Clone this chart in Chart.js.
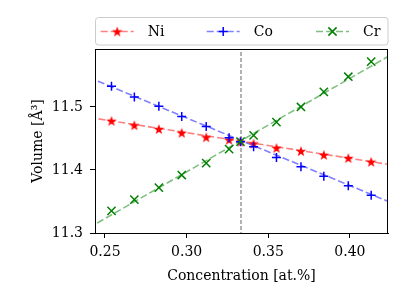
<!DOCTYPE html>
<html>
<head>
<meta charset="utf-8">
<script src="https://cdn.jsdelivr.net/npm/chart.js@4.4.0/dist/chart.umd.min.js"></script>
<style>
  html, body { margin: 0; padding: 0; background: #fff; }
  #wrap { width: 405px; height: 300px; }
</style>
</head>
<body>
<div id="wrap"><canvas id="volumeChart" width="405" height="300"></canvas></div>
<script>
// concentration of the element (at. fraction) and volume per atom (A^3)
const concentration = [0.254, 0.268, 0.283, 0.297, 0.312, 0.326, 0.333, 0.341, 0.355, 0.370, 0.384, 0.399, 0.413];
const niVolume = [11.478, 11.471, 11.465, 11.459, 11.452, 11.448, 11.445, 11.442, 11.435, 11.430, 11.424, 11.419, 11.413];
const coVolume = [11.533, 11.516, 11.501, 11.485, 11.469, 11.451, 11.445, 11.437, 11.420, 11.405, 11.390, 11.375, 11.360];
const crVolume = [11.335, 11.353, 11.372, 11.392, 11.411, 11.433, 11.445, 11.455, 11.476, 11.500, 11.524, 11.548, 11.572];

// linear fits, taken at both ends of the x range
const fitX = [0.24, 0.43];
const niFit = [11.4836, 11.4063];
const coFit = [11.547, 11.343];
const crFit = [11.308, 11.590];

// equiatomic composition marker
const equiatomic = 0.3333;
const equiatomicY = [11.2, 11.7];

const xTicks = [0.25, 0.30, 0.35, 0.40];
const yTicks = [11.3, 11.4, 11.5];

const FONT = "'DejaVu Serif', serif";

const toPoints = (xs, ys) => xs.map((x, i) => ({ x: x, y: ys[i] }));

/**
 * Filled five point star, used as an image point style
 */
function makeStar(color, size) {
    const c = document.createElement('canvas');
    c.width = c.height = size;
    const ctx = c.getContext('2d');
    const mid = size / 2;
    const outer = size / 2 - 0.5;
    const inner = outer * 0.4;
    ctx.beginPath();
    for (let i = 0; i < 10; i++) {
        const r = i % 2 ? inner : outer;
        const a = -Math.PI / 2 + i * Math.PI / 5;
        ctx.lineTo(mid + r * Math.cos(a), mid + 0.5 + r * Math.sin(a));
    }
    ctx.closePath();
    ctx.fillStyle = color;
    ctx.fill();
    return c;
}

const series = [
    { label: 'Ni', values: niVolume, fit: niFit, color: '#ff0000', line: 'rgba(255,0,0,0.5)', style: makeStar('#ff0000', 12), radius: 5 },
    { label: 'Co', values: coVolume, fit: coFit, color: '#0000ff', line: 'rgba(0,0,255,0.5)', style: 'cross', radius: 4.5 },
    { label: 'Cr', values: crVolume, fit: crFit, color: '#008000', line: 'rgba(0,128,0,0.5)', style: 'crossRot', radius: 5.8 }
];

const datasets = [];
series.forEach((s, i) => {
    datasets.push({
        label: s.label,
        data: toPoints(concentration, s.values),
        showLine: false,
        pointStyle: s.style,
        pointRadius: s.radius,
        pointBorderWidth: 1.5,
        pointBorderColor: s.color,
        pointBackgroundColor: s.color,
        order: 3 - i
    });
    datasets.push({
        label: s.label + ' fit',
        data: toPoints(fitX, s.fit),
        showLine: true,
        borderColor: s.line,
        borderWidth: 1.6,
        borderDash: [7, 3],
        pointRadius: 0,
        order: 4 + i
    });
});
datasets.push({
    label: 'equiatomic',
    data: toPoints([equiatomic, equiatomic], equiatomicY),
    showLine: true,
    borderColor: '#666666',
    borderWidth: 1,
    borderDash: [4, 2],
    pointRadius: 0,
    order: 10
});

// black frame round the plot area
const framePlugin = {
    id: 'frame',
    afterDraw(chart) {
        const a = chart.chartArea;
        const ctx = chart.ctx;
        ctx.save();
        ctx.strokeStyle = '#000';
        ctx.lineWidth = 1;
        ctx.strokeRect(Math.round(a.left) + 0.5, Math.round(a.top) + 0.5,
            Math.round(a.right - a.left) - 1, Math.round(a.bottom - a.top));
        ctx.restore();
    }
};

// matplotlib style legend above the axes, three columns
const legendPlugin = {
    id: 'mplLegend',
    afterDraw(chart) {
        const a = chart.chartArea;
        const ctx = chart.ctx;
        const top = 17.5, bottom = 45;
        const left = a.left + 0.5, right = a.right;
        const r = 3;
        ctx.save();
        ctx.beginPath();
        ctx.moveTo(left + r, top);
        ctx.arcTo(right, top, right, bottom, r);
        ctx.arcTo(right, bottom, left, bottom, r);
        ctx.arcTo(left, bottom, left, top, r);
        ctx.arcTo(left, top, right, top, r);
        ctx.closePath();
        ctx.fillStyle = 'rgba(255,255,255,0.8)';
        ctx.fill();
        ctx.strokeStyle = '#cccccc';
        ctx.lineWidth = 1;
        ctx.stroke();

        const cy = 31.5;
        const starts = [5.7, 111.7, 221];
        series.forEach((s, i) => {
            const x0 = a.left + starts[i];
            ctx.strokeStyle = s.line;
            ctx.lineWidth = 1.6;
            ctx.setLineDash([7, 3]);
            ctx.beginPath();
            ctx.moveTo(x0, cy);
            ctx.lineTo(x0 + 33, cy);
            ctx.stroke();
            ctx.setLineDash([]);
            ctx.strokeStyle = s.color;
            ctx.fillStyle = s.color;
            ctx.lineWidth = 1.5;
            Chart.helpers.drawPoint(ctx, { pointStyle: s.style, radius: s.radius, rotation: 0, borderWidth: 1.5 }, x0 + 16.5, cy);
            ctx.fillStyle = '#000';
            ctx.font = '14px ' + FONT;
            ctx.textBaseline = 'middle';
            ctx.textAlign = 'left';
            ctx.fillText(s.label, x0 + 47, cy + 1);
        });
        ctx.restore();
    }
};

const ctx = document.getElementById('volumeChart').getContext('2d');
new Chart(ctx, {
    type: 'scatter',
    data: { datasets: datasets },
    options: {
        responsive: false,
        animation: false,
        devicePixelRatio: 1,
        layout: { padding: { left: 0, right: 17, top: 49, bottom: 0 } },
        plugins: {
            legend: { display: false },
            tooltip: { enabled: false }
        },
        scales: {
            x: {
                type: 'linear',
                min: 0.2439,
                max: 0.4233,
                afterBuildTicks: (s) => { s.ticks = xTicks.map(v => ({ value: v })); },
                afterFit: (s) => { s.height = 67; },
                ticks: {
                    color: '#000',
                    font: { family: FONT, size: 14 },
                    padding: 6,
                    maxRotation: 0,
                    callback: (v) => Number(v).toFixed(2)
                },
                grid: { drawOnChartArea: false, tickLength: 5, tickColor: '#000', tickWidth: 1 },
                border: { display: true, color: '#000', width: 1 },
                title: {
                    display: true,
                    text: 'Concentration [at.%]',
                    color: '#000',
                    font: { family: FONT, size: 14 },
                    padding: { top: 0, bottom: 15 }
                }
            },
            y: {
                type: 'linear',
                min: 11.3,
                max: 11.592,
                afterBuildTicks: (s) => { s.ticks = yTicks.map(v => ({ value: v })); },
                afterFit: (s) => { s.width = 95; },
                ticks: {
                    color: '#000',
                    font: { family: FONT, size: 14 },
                    padding: 7,
                    callback: (v) => Number(v).toFixed(1)
                },
                grid: { drawOnChartArea: false, tickLength: 5, tickColor: '#000', tickWidth: 1 },
                border: { display: true, color: '#000', width: 1 },
                title: {
                    display: true,
                    text: 'Volume [Å³]',
                    color: '#000',
                    font: { family: FONT, size: 14 },
                    padding: { top: 30, bottom: 0 }
                }
            }
        }
    },
    plugins: [framePlugin, legendPlugin]
});
</script>
</body>
</html>
